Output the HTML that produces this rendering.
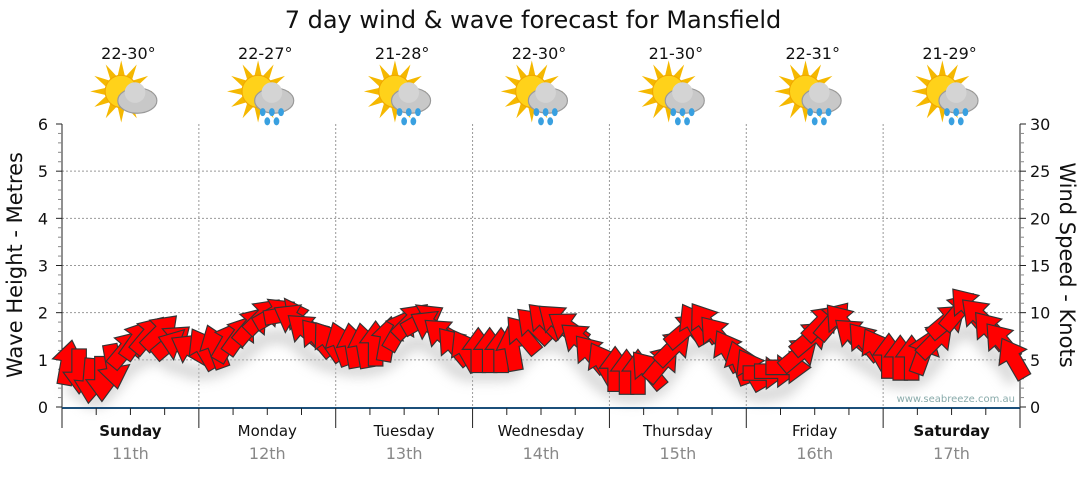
<!DOCTYPE html>
<html><head><meta charset="utf-8">
<style>
body{margin:0;background:#fff;width:1080px;height:475px;overflow:hidden;font-family:"Liberation Sans","DejaVu Sans",sans-serif}
svg text{font-family:"DejaVu Sans","Liberation Sans",sans-serif}
</style></head>
<body>
<svg id="c" width="1080" height="475">
<defs>
<filter id="sh" x="-20%" y="-20%" width="140%" height="160%"><feGaussianBlur stdDeviation="6"/></filter>
</defs>
<text x="533" y="28" text-anchor="middle" font-size="24" fill="#111">7 day wind &amp; wave forecast for Mansfield</text>
<text x="22" y="265" text-anchor="middle" font-size="21" fill="#111" transform="rotate(-90 22 265)">Wave Height - Metres</text>
<text x="1060" y="265" text-anchor="middle" font-size="21" fill="#111" transform="rotate(90 1060 265)">Wind Speed - Knots</text>
<text x="1015" y="402" text-anchor="end" font-size="10" fill="#8aa">www.seabreeze.com.au</text>
<g id="g"></g>
</svg>
<script>
const days=["Sunday","Monday","Tuesday","Wednesday","Thursday","Friday","Saturday"];
const dates=["11th","12th","13th","14th","15th","16th","17th"];
const temps=["22-30°","22-27°","21-28°","22-30°","21-30°","22-31°","21-29°"];
const rain=[false,true,true,true,true,true,true];
const leftTicks=[0,1,2,3,4,5,6];
const rightTicks=[0,5,10,15,20,25,30];
const windSpeed=[4.5,4,3,3.2,4.5,6,7,7.5,7.8,6.8,6.5,6,
6,6.2,6.8,7.5,8.5,9.5,9.8,9.8,9.2,8,7.2,6.8,
6.5,6.3,6.3,6.5,7,8,9,9.2,8.5,7.5,6.3,5.8,
5.8,5.8,5.8,6,7.5,8.5,9,9,8.3,7,5.5,4.5,
3.8,3.5,3.5,3.8,4.5,6.2,8,8.6,8.8,7.5,5.8,4.5,
3.8,3.6,3.8,4.2,5.5,7.2,8.8,9,8.8,7.5,6.8,6,
5.2,5,5,5.6,7,9,10,10.5,9.5,8,6.8,5];
const windDir=[10,180,185,180,170,40,35,40,45,50,-70,-60,
-30,-20,30,35,40,45,60,80,-60,-50,-40,-35,
-20,-10,-10,0,10,30,45,60,-60,-50,-40,-30,
0,0,0,-10,-40,-45,-45,-50,-55,-50,-40,-30,
0,0,0,-40,40,45,50,-30,-35,-40,-30,-20,
-30,90,90,90,50,50,45,40,-40,-50,-40,-30,
0,0,0,20,45,50,40,-40,-45,-40,-40,-30];
const X0=62,X1=1020,Y0=407,Y1=124;
const g=document.getElementById('g');
const NS='http://www.w3.org/2000/svg';
function el(t,a,p){const e=document.createElementNS(NS,t);for(const k in a)e.setAttribute(k,a[k]);(p||g).appendChild(e);return e;}
const yL=v=>Y0-(v/6)*(Y0-Y1);
const yR=v=>Y0-(v/30)*(Y0-Y1);
const dayW=(X1-X0)/7;
const xT=i=>X0+(i+0.5)*dayW/12;
for(let v=1;v<6;v++){const l=el('line',{x1:X0,x2:X1,y1:yL(v),y2:yL(v),stroke:'#999','stroke-dasharray':'2,2'});
}
for(let d=1;d<7;d++){const x=X0+d*dayW;const l=el('line',{x1:x,x2:x,y1:Y1,y2:Y0,stroke:'#999','stroke-dasharray':'2,2'});
}
el('line',{x1:X0,x2:X0,y1:Y1,y2:Y0+4,stroke:'#222'});
el('line',{x1:X1,x2:X1,y1:Y1,y2:Y0+4,stroke:'#222'});
for(let i=0;i<=30;i++){const y=Y0-i*(Y0-Y1)/30;const maj=i%5==0;
el('line',{x1:X0-(maj?6:4),x2:X0,y1:y,y2:y,stroke:maj?'#222':'#888'});
el('line',{x1:X1,x2:X1+(maj?6:4),y1:y,y2:y,stroke:maj?'#222':'#888'});}
leftTicks.forEach(v=>{const t=el('text',{x:X0-14,y:yL(v)+6,'text-anchor':'end','font-size':16,fill:'#111'});t.textContent=v;
});
rightTicks.forEach(v=>{const t=el('text',{x:X1+10,y:yR(v)+6,'font-size':16,fill:'#111'});t.textContent=v;
});
let pts=windSpeed.map((s,i)=>xT(i)+','+(yR(s)+22)).join(' ');
el('polyline',{points:pts,fill:'none',stroke:'#bbb','stroke-width':14,filter:'url(#sh)',opacity:0.6});
windSpeed.forEach((s,i)=>{const x=xT(i),y=yR(s);
const p=el('polygon',{points:'-5,14 5,14 5,-2 11,-2 0,-17 -11,-2 -5,-2',fill:'#f00',stroke:'#333','stroke-width':0.8,transform:`translate(${x},${y}) rotate(${windDir[i]}) scale(1.45)`});
});
el('line',{x1:X0,x2:X1,y1:Y0+1,y2:Y0+1,stroke:'#1b4f7a','stroke-width':2});
for(let i=0;i<=28;i++){const x=X0+i*dayW/4;el('line',{x1:x,x2:x,y1:Y0+1,y2:Y0+(i%4==0?21:8),stroke:'#222'});}
days.forEach((d,i)=>{const cx=X0+(i+0.5)*dayW;
const t=el('text',{x:cx,y:436,'text-anchor':'middle','font-size':15,fill:'#111','font-weight':(i==0||i==6)?'bold':'normal'});t.textContent=d;

const t2=el('text',{x:cx,y:459,'text-anchor':'middle','font-size':16,fill:'#888'});t2.textContent=dates[i];

const t3=el('text',{x:cx-2,y:59,'text-anchor':'middle','font-size':16,fill:'#111'});t3.textContent=temps[i];

const ic=el('g',{transform:`translate(${cx},96) scale(1.15)`});

for(let k=0;k<12;k++){const a=k*30;el('polygon',{points:'-3,-14 3,-14 0,-27',fill:'#f5b800',transform:`translate(-8,-4) rotate(${a})`},ic);}
el('circle',{cx:-8,cy:-4,r:14,fill:'#ffd21a',stroke:'#f0a800'},ic);
el('ellipse',{cx:6,cy:4,rx:17,ry:11,fill:'#c8c8c8',stroke:'#999'},ic);
el('circle',{cx:4,cy:-3,r:9,fill:'#d4d4d4'},ic);
if(rain[i]){[[-4,14],[4,14],[12,14],[0,22],[8,22]].forEach(q=>el('ellipse',{cx:q[0],cy:q[1],rx:2.5,ry:3.5,fill:'#39a0e0'},ic));}
});
</script>
</body></html>
